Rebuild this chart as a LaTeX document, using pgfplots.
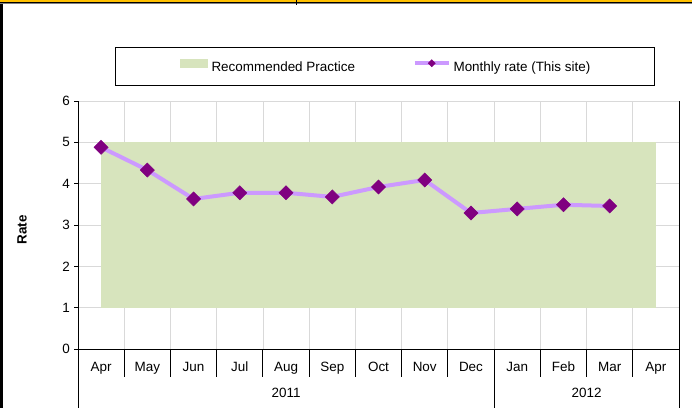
\documentclass[border=0pt]{standalone}
\usepackage{pgfplots}
\pgfplotsset{compat=1.18}
\usepackage{fontspec}
\setmainfont{Liberation Sans}
\definecolor{rpgreen}{HTML}{D7E4BD}
\definecolor{lav}{HTML}{CC99FF}
\definecolor{purp}{HTML}{800080}
\definecolor{gridc}{HTML}{D9D9D9}
\definecolor{gold}{HTML}{FFC000}
\newcommand\fs{\fontsize{13.5}{16}\selectfont}
\pgfplotsset{
  arealeg/.style={legend image code/.code={\fill[##1] (0bp,0bp) rectangle (28bp,9bp);}},
  lineleg/.style={legend image code/.code={\draw[mark repeat=2,mark phase=2,##1,line width=3.5bp,mark size=2.5bp] plot coordinates {(0bp,4.8bp) (17bp,4.8bp) (34bp,4.8bp)};}},
}
\begin{document}
\fs
\begin{tikzpicture}[x=1bp,y=1bp]
\useasboundingbox (0,0) rectangle (692,408);
\fill[white] (0,0) rectangle (692,408);
\fill[black] (0,0) rectangle (3,408);
\fill[gold] (0,405.5) rectangle (692,408);
\fill[black] (0,404.5) rectangle (692,405.5);
\fill[gray] (0,403.5) rectangle (692,404.5);
\draw[black, line width=1.5bp] (296.5,408) -- (296.5,403);
\begin{axis}[
  at={(78bp,59bp)}, anchor=south west,
  scale only axis, width=601bp, height=248bp,
  xmin=-0.5, xmax=12.5, ymin=0, ymax=6,
  axis lines*=left,
  axis line style={black, line width=0.9bp},
  xtick={-0.5,0.5,...,12.5},
  x tick label as interval,
  xticklabels={Apr,May,Jun,Jul,Aug,Sep,Oct,Nov,Dec,Jan,Feb,Mar,Apr},
  xtick style={draw=none},
  ytick={0,1,2,3,4,5,6},
  ytick style={black, line width=0.75bp},
  tick align=outside, major tick length=4bp,
  xmajorgrids, ymajorgrids,
  grid style={gridc, line width=0.75bp},
  /pgf/number format/assume math mode=true,
  ticklabel style={font=\fs},
  xticklabel style={anchor=base, yshift=-18.5bp},
  yticklabel style={inner sep=0pt, xshift=-4bp},
  ylabel={Rate},
  ylabel style={font=\fs\bfseries, at={(rel axis cs:-0.0932,0.48)}, anchor=center},
  clip=false,
  legend columns=2,
  legend cell align=left,
  legend style={at={(rel axis cs:0.0616,1.2177)}, anchor=north west,
    draw=black, line width=1bp, inner xsep=64bp, inner ysep=11.5bp, font=\fs,
    nodes={inner sep=0pt},
    /tikz/column 1/.style={column sep=4bp},
    /tikz/column 2/.style={column sep=58bp},
    /tikz/column 3/.style={column sep=3bp}},
]
\addplot[fill=rpgreen, draw=none, area legend, arealeg]
  coordinates {(0,1) (0,5) (12,5) (12,1)};
\addlegendentry{Recommended Practice}
\addplot[lav, line width=4bp, mark=square*, mark size=5bp,
  mark options={rotate=45, fill=purp, draw=purp, line width=0.5bp}, lineleg]
  coordinates {(0,4.88) (1,4.33) (2,3.63) (3,3.78) (4,3.78) (5,3.68)
               (6,3.92) (7,4.09) (8,3.29) (9,3.39) (10,3.49) (11,3.46)};
\addlegendentry{Monthly rate (This site)}
\draw[black, line width=0.9bp] (axis cs:12.5,6) -- (axis cs:12.5,0) -- ++(0bp,-59bp);
\draw[black, line width=0.9bp] (axis cs:-0.5,0) -- ++(0bp,-59bp);
\draw[black, line width=0.9bp] (axis cs:8.5,0) -- ++(0bp,-59bp);
\pgfplotsinvokeforeach{0.5,1.5,2.5,3.5,4.5,5.5,6.5,7.5,9.5,10.5,11.5}{
  \draw[black, line width=0.9bp] (axis cs:#1,0) -- ++(0bp,-28bp);
}
\node[font=\fs] at ([yshift=-44bp]axis cs:4,0) {2011};
\node[font=\fs] at ([yshift=-44bp]axis cs:10.5,0) {2012};
\end{axis}
\end{tikzpicture}
\end{document}
